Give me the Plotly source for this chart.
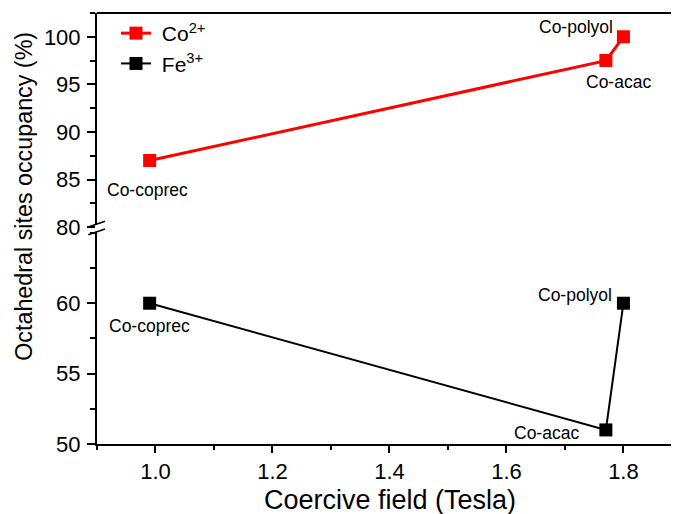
import plotly.graph_objects as go

# Data
samples = ["Co-coprec", "Co-acac", "Co-polyol"]
coercive_field = [0.99, 1.77, 1.80]
co2_occupancy = [87.0, 97.5, 100.0]
fe3_occupancy = [60.0, 51.0, 60.0]

x_ticks = [1.0, 1.2, 1.4, 1.6, 1.8]
x_tick_labels = ["1.0", "1.2", "1.4", "1.6", "1.8"]
y_low_ticks = [50, 55, 60]
y_high_ticks = [80, 85, 90, 95, 100]

FONT = "Liberation Sans, Arial, sans-serif"
OFF = 8  # page body margin
W, H = 679 - OFF, 514 - OFF
ML, MT = 97 - OFF, 13 - OFF
PW, PH = 582, 431.5
MR = W - ML - PW
MB = H - MT - PH
BREAK = 0.503

def px2paper(px, py):
    # px, py in screenshot pixels
    return (px - OFF - ML) / PW, (MT + PH - (py - OFF)) / PH

fig = go.Figure()

fig.add_trace(go.Scatter(
    x=coercive_field, y=co2_occupancy, yaxis="y2", mode="lines+markers",
    name="&nbsp;Co<sup>2+</sup>",
    line=dict(color="#ff0000", width=3),
    marker=dict(symbol="square", size=13, color="#ff0000"),
))
fig.add_trace(go.Scatter(
    x=coercive_field, y=fe3_occupancy, yaxis="y", mode="lines+markers",
    name="&nbsp;Fe<sup>3+</sup>",
    line=dict(color="#000000", width=2),
    marker=dict(symbol="square", size=13, color="#000000"),
))

# Point labels (offsets in pixels)
red_offsets = [(-2, -29), (13, -21), (-47, 10)]
black_offsets = [(0, -23), (-59, -3), (-48, 8)]
annots = []
for s, x, y, (dx, dy) in zip(samples, coercive_field, co2_occupancy, red_offsets):
    annots.append(dict(x=x, y=y, xref="x", yref="y2", text=s, showarrow=False,
                       xshift=dx, yshift=dy, font=dict(family=FONT, size=17.5, color="#000")))
for s, x, y, (dx, dy) in zip(samples, coercive_field, fe3_occupancy, black_offsets):
    annots.append(dict(x=x, y=y, xref="x", yref="y", text=s, showarrow=False,
                       xshift=dx, yshift=dy, font=dict(family=FONT, size=17.5, color="#000")))

# Axis titles
tx, ty = px2paper(390, 501)
annots.append(dict(x=tx, y=ty, xref="paper", yref="paper", text="Coercive field (Tesla)",
                   showarrow=False, xanchor="center", yanchor="middle",
                   font=dict(family=FONT, size=27, color="#000")))
yx, yy = px2paper(24, 197)
annots.append(dict(x=yx, y=yy, xref="paper", yref="paper", text="Octahedral sites occupancy (%)",
                   showarrow=False, xanchor="center", yanchor="middle", textangle=-90,
                   font=dict(family=FONT, size=23.3, color="#000")))

# Shapes: top border and axis break marks
shapes = [dict(type="line", xref="paper", yref="paper", x0=0, x1=1, y0=1, y1=1,
               line=dict(color="#000", width=2))]
gx0, gy0 = px2paper(95, 232)
gx1, gy1 = px2paper(99, 225)
shapes.append(dict(type="rect", xref="paper", yref="paper", x0=gx0, x1=gx1, y0=gy0, y1=gy1,
                   fillcolor="white", line=dict(width=0), layer="above"))
for a, b in [((88.3, 227.3), (105, 221.5)), ((88.3, 235), (105, 229.2))]:
    x0, y0 = px2paper(*a)
    x1, y1 = px2paper(*b)
    shapes.append(dict(type="line", xref="paper", yref="paper", x0=x0, y0=y0, x1=x1, y1=y1,
                       line=dict(color="#000", width=1.5), layer="above"))

tickfont = dict(family=FONT, size=22, color="#000")

fig.update_layout(
    width=W, height=H,
    margin=dict(l=ML, r=MR, t=MT, b=MB, pad=0, autoexpand=False),
    paper_bgcolor="white", plot_bgcolor="white",
    showlegend=True,
    legend=dict(x=19 / PW, y=1.0, xanchor="left", yanchor="top",
                bgcolor="rgba(0,0,0,0)", font=dict(family=FONT, size=21, color="#000")),
    xaxis=dict(range=[0.9, 1.895], tickvals=x_ticks, ticktext=x_tick_labels,
               ticks="outside", ticklen=7, tickwidth=1.5, tickcolor="#000",
               minor=dict(dtick=0.1, tick0=0.9, ticks="outside", ticklen=4, tickwidth=1.5, tickcolor="#000"),
               showline=True, linecolor="#000", linewidth=2, showgrid=False, zeroline=False,
               tickfont=tickfont, anchor="y"),
    yaxis=dict(domain=[0, BREAK], range=[50, 65.4], tickvals=y_low_ticks,
               ticks="outside", ticklen=8, tickwidth=1.5, tickcolor="#000",
               minor=dict(dtick=2.5, tick0=50, ticks="outside", ticklen=5, tickwidth=1.5, tickcolor="#000"),
               showline=True, linecolor="#000", linewidth=2, showgrid=False, zeroline=False,
               tickfont=tickfont, anchor="x", ticklabelstandoff=2),
    yaxis2=dict(domain=[BREAK, 1], range=[80, 102.5], tickvals=y_high_ticks,
                ticks="outside", ticklen=8, tickwidth=1.5, tickcolor="#000",
                minor=dict(dtick=2.5, tick0=80, ticks="outside", ticklen=5, tickwidth=1.5, tickcolor="#000"),
                showline=True, linecolor="#000", linewidth=2, showgrid=False, zeroline=False,
                tickfont=tickfont, anchor="x", ticklabelstandoff=2),
    annotations=annots,
    shapes=shapes,
)

fig.write_html("out.html")
